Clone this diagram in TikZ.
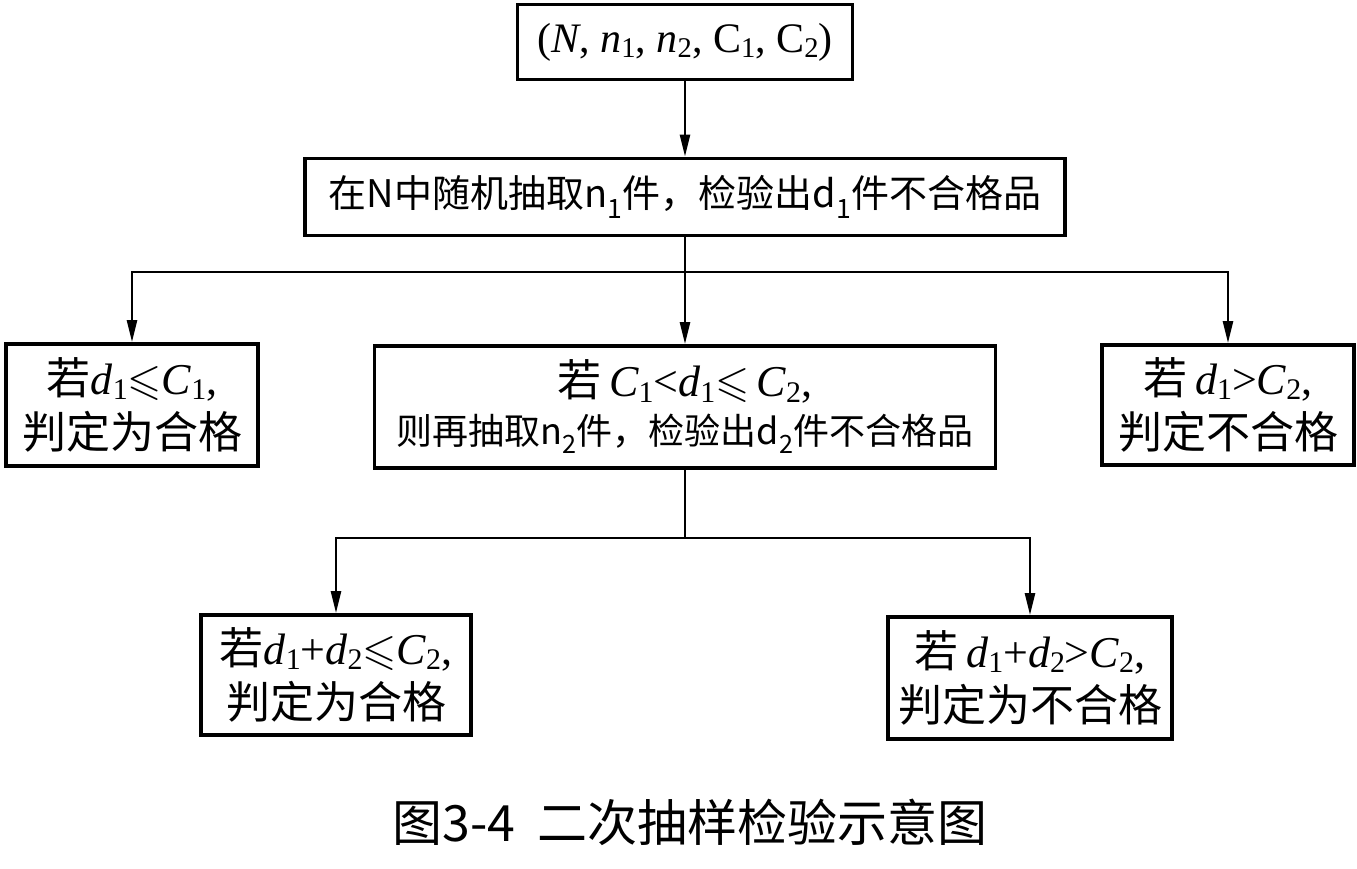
\documentclass[tikz,border=0pt]{standalone}
\usepackage{amssymb}
\usepackage{graphicx}
\usepackage{fontspec}
\setmainfont{Noto Sans CJK SC}
\newfontfamily\tms{Liberation Serif}
\usetikzlibrary{arrows.meta}
\newcommand\sbs[1]{\textsubscript{\upshape #1}}
\newcommand\ssb[1]{\raisebox{-0.12em}{\scalebox{0.68}{\upshape #1}}}
\newcommand\vi[1]{{\tms\itshape #1}}
\newcommand\rel[1]{{\tms #1}}
\tikzset{
  box/.style={draw=black, line width=3.8pt, inner sep=0pt, align=center},
  conn/.style={line width=2.6pt},
  arr/.style={conn, -{Triangle[length=22pt,width=10pt]}},
  big/.style={font=\fontsize{44}{54}\selectfont},
  mid/.style={font=\fontsize{38}{44}\selectfont},
}
\begin{document}
\begin{tikzpicture}[x=1pt,y=-1pt]
\useasboundingbox (0,0) rectangle (1357,869);
\node[box, minimum width=335pt, minimum height=75pt, font=\fontsize{42}{46}\selectfont\tms] (b1) at (685,42)
  {(\textit{N}, \textit{n}\ssb{1}, \textit{n}\ssb{2}, C\ssb{1}, C\ssb{2})};
\node[box, mid, minimum width=760pt, minimum height=77pt] (b2) at (685,197)
  {在N中随机抽取n\sbs{1}件，检验出d\sbs{1}件不合格品};
\node[box, big, minimum width=252pt, minimum height=122pt] (bL) at (132,405)
  {若\vi{d\ssb{1}}$\leqslant$\vi{C\ssb{1}}\rel{,}\\判定为合格};
\node[box, minimum width=621pt, minimum height=122pt] (bM) at (685,407)
  {{\fontsize{44}{50}\selectfont 若\,\vi{C\ssb{1}}\rel{<}\vi{d\ssb{1}}$\leqslant$\,\vi{C\ssb{2}}\rel{,}}\\[9pt]
   {\fontsize{36}{44}\selectfont 则再抽取n\sbs{2}件，检验出d\sbs{2}件不合格品}};
\node[box, big, minimum width=252pt, minimum height=120pt] (bR) at (1228,405)
  {若\,\vi{d\ssb{1}}\rel{>}\vi{C\ssb{2}}\rel{,}\\判定不合格};
\node[box, big, minimum width=270pt, minimum height=120pt] (bBL) at (336,675)
  {若\vi{d\ssb{1}}\rel{+}\vi{d\ssb{2}}$\leqslant$\vi{C\ssb{2}}\rel{,}\\判定为合格};
\node[box, big, minimum width=284pt, minimum height=122pt] (bBR) at (1030,678)
  {若\,\vi{d\ssb{1}}\rel{+}\vi{d\ssb{2}}\rel{>}\vi{C\ssb{2}}\rel{,}\\判定为不合格};
\node[font=\fontsize{50}{56}\selectfont] (cap) at (690,822) {图3-4\ \ 二次抽样检验示意图};
\coordinate (j1) at (685,272);
\coordinate (j2) at (685,538);
\draw[arr] (b1.south) -- (b2.north);
\draw[arr] (b2.south) -- (bM.north);
\draw[arr] (j1) -| (bL.north);
\draw[arr] (j1) -| (bR.north);
\draw[conn] (bM.south) -- (j2);
\draw[arr] (j2) -| (bBL.north);
\draw[arr] (j2) -| (bBR.north);
\end{tikzpicture}
\end{document}
